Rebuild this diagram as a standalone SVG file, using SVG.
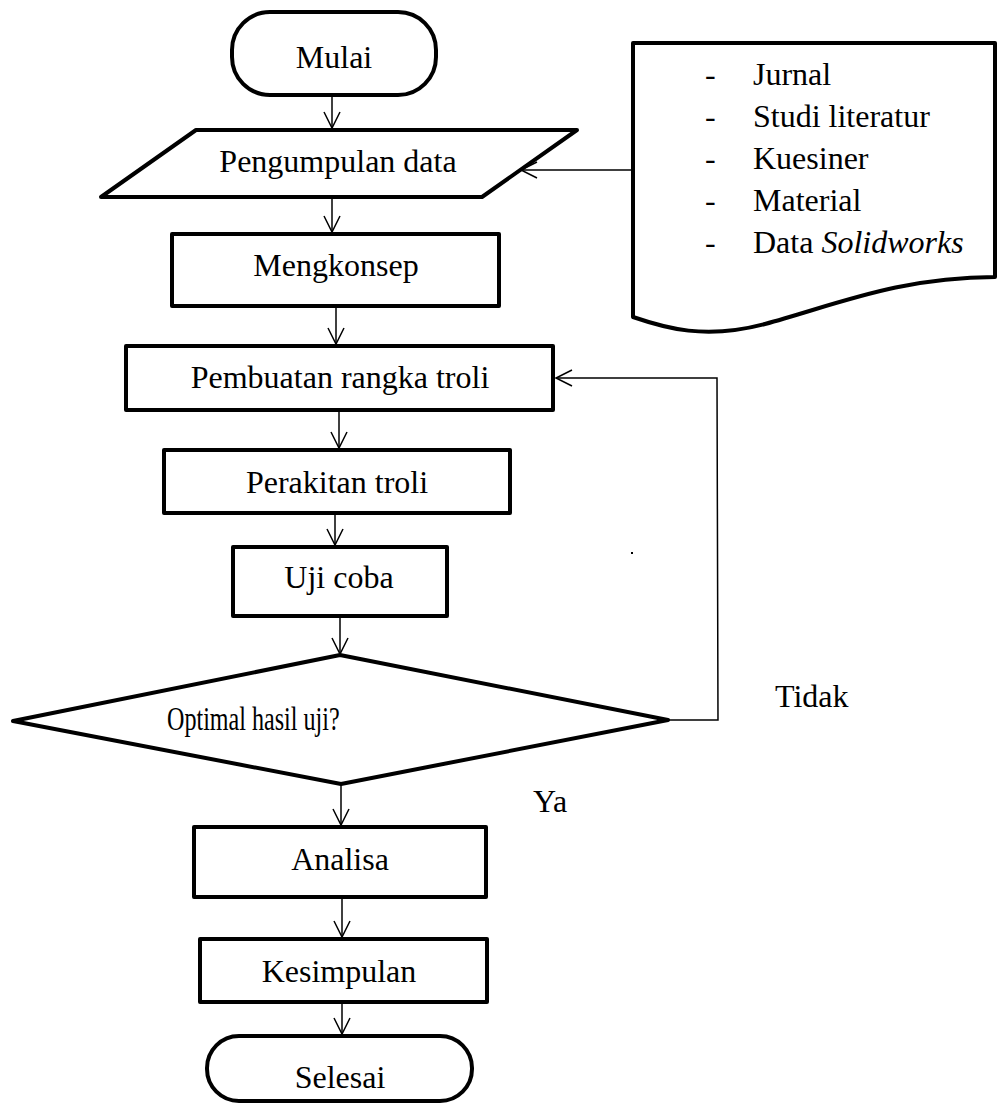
<svg xmlns="http://www.w3.org/2000/svg" width="997" height="1113" viewBox="0 0 997 1113">
<style>
.shape{fill:#fff;stroke:#000;stroke-width:4;stroke-linejoin:round}
.conn{fill:none;stroke:#000;stroke-width:1.5}
text{font-family:"Liberation Serif","Times New Roman",serif;font-size:32px;fill:#000}
.c{text-anchor:middle}
</style>
<defs>
<marker id="arr" markerUnits="userSpaceOnUse" markerWidth="20" markerHeight="20" refX="17" refY="9" orient="auto">
<path d="M1,1 L17,9 L1,17" fill="none" stroke="#000" stroke-width="1.5"/>
</marker>
</defs>
<rect width="997" height="1113" fill="#fff"/>
<g id="connectors">
<line class="conn" x1="332" y1="95" x2="332" y2="128" marker-end="url(#arr)"/>
<line class="conn" x1="632" y1="170" x2="521" y2="170" marker-end="url(#arr)"/>
<line class="conn" x1="332" y1="197" x2="332" y2="232" marker-end="url(#arr)"/>
<line class="conn" x1="336" y1="306" x2="336" y2="344" marker-end="url(#arr)"/>
<line class="conn" x1="339" y1="410" x2="339" y2="448" marker-end="url(#arr)"/>
<line class="conn" x1="335" y1="513" x2="335" y2="545" marker-end="url(#arr)"/>
<line class="conn" x1="340" y1="616" x2="340" y2="654" marker-end="url(#arr)"/>
<polyline class="conn" points="668,720 718,720 717,378 556,378" marker-end="url(#arr)"/>
<line class="conn" x1="341" y1="784" x2="341" y2="825" marker-end="url(#arr)"/>
<line class="conn" x1="342" y1="897" x2="342" y2="937" marker-end="url(#arr)"/>
<line class="conn" x1="342" y1="1002" x2="342" y2="1034" marker-end="url(#arr)"/>
</g>
<g id="mulai">
<rect class="shape" x="232" y="12" width="204" height="83" rx="38" ry="38"/>
<text class="c" x="334" y="68">Mulai</text>
</g>
<g id="pengumpulan">
<polygon class="shape" points="196,130 577,130 482,197 101,197"/>
<text class="c" x="338" y="172">Pengumpulan data</text>
</g>
<g id="sumber">
<path class="shape" d="M633,43 L995,43 L995,277 C900,277 835,305 765,324 C705,340 665,328 633,317 Z"/>
<text x="705" y="85">-</text><text x="753" y="85">Jurnal</text>
<text x="705" y="127">-</text><text x="753" y="127">Studi literatur</text>
<text x="705" y="169">-</text><text x="753" y="169">Kuesiner</text>
<text x="705" y="211">-</text><text x="753" y="211">Material</text>
<text x="705" y="253">-</text><text x="753" y="253">Data <tspan font-style="italic">Solidworks</tspan></text>
</g>
<g id="mengkonsep">
<rect class="shape" x="172" y="234" width="327" height="72"/>
<text class="c" x="336" y="276">Mengkonsep</text>
</g>
<g id="pembuatan">
<rect class="shape" x="126" y="346" width="427" height="64"/>
<text class="c" x="340" y="388">Pembuatan rangka troli</text>
</g>
<g id="perakitan">
<rect class="shape" x="164" y="450" width="346" height="63"/>
<text class="c" x="337" y="493">Perakitan troli</text>
</g>
<g id="ujicoba">
<rect class="shape" x="233" y="547" width="214" height="69"/>
<text class="c" x="339" y="588">Uji coba</text>
</g>
<g id="keputusan">
<polygon class="shape" points="340,655 668,720 341,784 13,721"/>
<text class="c" transform="scale(0.73,1)" x="347" y="730" style="font-size:33px">Optimal hasil uji?</text>
</g>
<g id="labels">
<text x="775" y="707">Tidak</text>
<text x="533" y="812">Ya</text>
<rect x="631" y="552" width="2" height="2" fill="#000"/>
</g>
<g id="analisa">
<rect class="shape" x="194" y="827" width="292" height="70"/>
<text class="c" x="340" y="870">Analisa</text>
</g>
<g id="kesimpulan">
<rect class="shape" x="200" y="939" width="287" height="63"/>
<text class="c" x="339" y="982">Kesimpulan</text>
</g>
<g id="selesai">
<rect class="shape" x="207" y="1036" width="265" height="65" rx="32" ry="32"/>
<text class="c" x="340" y="1088">Selesai</text>
</g>
</svg>
